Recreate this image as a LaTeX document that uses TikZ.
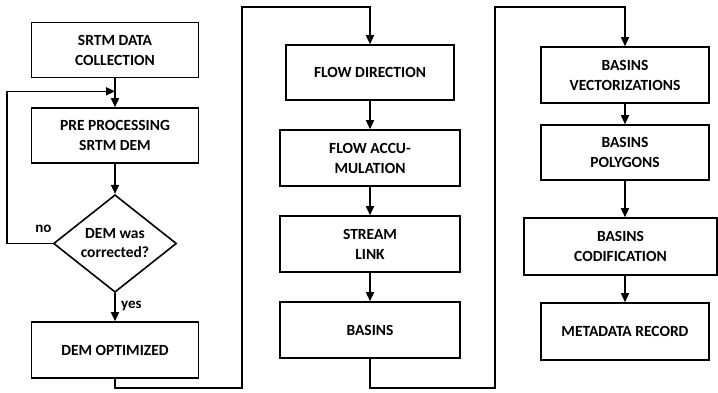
\documentclass[tikz,border=0pt]{standalone}
\usepackage{fontspec}
\setmainfont{Carlito}
\usetikzlibrary{shapes.geometric,arrows.meta,positioning,calc}

\begin{document}
\begin{tikzpicture}[x=1pt,y=-1pt,
	stepbox/.style={draw, line width=1.6pt, align=center, inner sep=2pt, font=\bfseries\fontsize{15.5}{20}\selectfont},
	test/.style={draw, diamond, line width=1.6pt, align=center, inner sep=0pt, minimum width=123pt, minimum height=83pt, font=\bfseries\fontsize{15.5}{19}\selectfont},
	flow/.style={line width=1.6pt, -{Triangle[length=9pt,width=8pt]}},
	lbl/.style={font=\bfseries\fontsize{15}{18}\selectfont}]
	\useasboundingbox (0,0) rectangle (718,393);
	% first column
	\node[stepbox, minimum width=167pt, minimum height=55pt] (srtm) at (115,50) {SRTM DATA\\COLLECTION};
	\node[stepbox, minimum width=167pt, minimum height=55pt] (prep) at (115,135.5) {PRE PROCESSING\\SRTM DEM};
	\node[test] (check) at (115,243.5) {DEM was\\corrected?};
	\node[stepbox, minimum width=167pt, minimum height=56pt] (demopt) at (115,350) {DEM OPTIMIZED};
	\coordinate (loopin) at ($(srtm.south)!0.45!(prep.north)$);
	\draw[flow] (srtm) -- (prep);
	\draw[flow] (prep) -- (check);
	\draw[flow] (check) -- (demopt) node[lbl, pos=0.45, right=2pt] {yes};
	\draw[flow] (check.west) -- ++(-46,0) node[lbl, pos=0.2, above=7pt] {no} |- (loopin);
	% second column
	\node[stepbox, minimum width=168pt, minimum height=55pt] (fdir) at (370,72.5) {FLOW DIRECTION};
	\node[stepbox, minimum width=180pt, minimum height=56pt] (facc) at (370,158) {FLOW ACCU-\\MULATION};
	\node[stepbox, minimum width=180pt, minimum height=56pt] (slink) at (370,244) {STREAM\\LINK};
	\node[stepbox, minimum width=180pt, minimum height=56pt] (basins) at (370,330) {BASINS};
	\coordinate (jbot1) at (242,388);
	\coordinate (jtop1) at (242,7);
	\draw[flow] (demopt.south) |- (jbot1) -- (jtop1) -| (fdir.north);
	\draw[flow] (fdir) -- (facc);
	\draw[flow] (facc) -- (slink);
	\draw[flow] (slink) -- (basins);
	% third column
	\node[stepbox, minimum width=168pt, minimum height=56pt] (bvec) at (625,75) {BASINS\\VECTORIZATIONS};
	\node[stepbox, minimum width=168pt, minimum height=55pt] (bpoly) at (625,152.5) {BASINS\\POLYGONS};
	\node[stepbox, minimum width=193pt, minimum height=57pt] (bcod) at (620.5,246.5) {BASINS\\CODIFICATION};
	\node[stepbox, minimum width=168pt, minimum height=57pt] (meta) at (625,331.5) {METADATA RECORD};
	\coordinate (jbot2) at (495,388);
	\coordinate (jtop2) at (495,7);
	\draw[flow] (basins.south) |- (jbot2) -- (jtop2) -| (bvec.north);
	\draw[flow] (bvec) -- (bpoly);
	\draw[flow] (bpoly.south) -- (bpoly.south |- bcod.north);
	\draw[flow] (bpoly.south |- bcod.south) -- (meta.north);
\end{tikzpicture}
\end{document}
